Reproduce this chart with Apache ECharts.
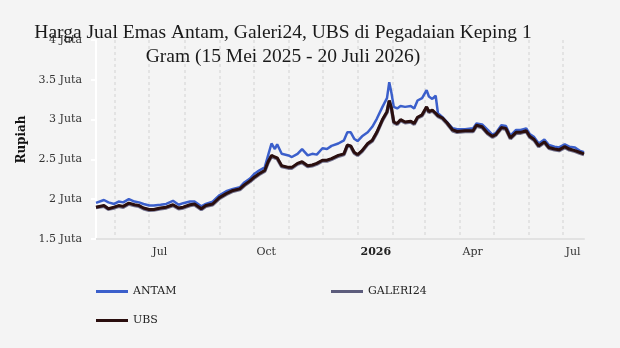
<!DOCTYPE html>
<html>
<head>
<meta charset="utf-8">
<script src="https://cdn.jsdelivr.net/npm/echarts@6.0.0/dist/echarts.min.js"></script>
<style>
  html, body { margin: 0; padding: 0; background: #f4f4f4; }
  #chart { width: 620px; height: 348px; }
</style>
</head>
<body>
<div id="chart"></div>
<script>
// Harga jual emas 1 gram (Rupiah)
const dates = [
  "2025-05-15", "2025-05-22", "2025-05-26", "2025-05-31", "2025-06-04", "2025-06-08", "2025-06-13",
  "2025-06-18", "2025-06-22", "2025-06-26", "2025-07-01", "2025-07-05", "2025-07-11", "2025-07-16",
  "2025-07-22", "2025-07-27", "2025-07-31", "2025-08-06", "2025-08-10", "2025-08-16", "2025-08-20",
  "2025-08-26", "2025-09-01", "2025-09-07", "2025-09-13", "2025-09-19", "2025-09-23", "2025-09-28",
  "2025-10-02", "2025-10-06", "2025-10-11", "2025-10-14", "2025-10-17", "2025-10-20", "2025-10-22",
  "2025-10-26", "2025-11-01", "2025-11-04", "2025-11-09", "2025-11-13", "2025-11-18", "2025-11-22",
  "2025-11-26", "2025-12-01", "2025-12-05", "2025-12-09", "2025-12-15", "2025-12-20", "2025-12-23",
  "2025-12-26", "2025-12-29", "2026-01-01", "2026-01-05", "2026-01-10", "2026-01-14", "2026-01-18",
  "2026-01-23", "2026-01-27", "2026-01-29", "2026-01-31", "2026-02-02", "2026-02-05", "2026-02-08",
  "2026-02-12", "2026-02-17", "2026-02-20", "2026-02-23", "2026-02-27", "2026-03-03", "2026-03-05",
  "2026-03-08", "2026-03-11", "2026-03-13", "2026-03-17", "2026-03-21", "2026-03-26", "2026-03-30",
  "2026-04-06", "2026-04-13", "2026-04-16", "2026-04-21", "2026-04-26", "2026-04-30", "2026-05-03",
  "2026-05-08", "2026-05-12", "2026-05-16", "2026-05-21", "2026-05-25", "2026-05-30", "2026-06-02",
  "2026-06-06", "2026-06-10", "2026-06-15", "2026-06-19", "2026-06-24", "2026-06-28", "2026-07-03",
  "2026-07-07", "2026-07-12", "2026-07-16", "2026-07-20"
];

const antam = [
  1954000, 1990000, 1960000, 1940000, 1970000, 1960000, 2000000,
  1970000, 1960000, 1940000, 1920000, 1920000, 1930000, 1940000,
  1980000, 1930000, 1950000, 1970000, 1970000, 1910000, 1940000,
  1970000, 2050000, 2100000, 2130000, 2150000, 2210000, 2260000,
  2320000, 2360000, 2400000, 2550000, 2700000, 2630000, 2690000,
  2570000, 2550000, 2530000, 2570000, 2630000, 2550000, 2570000,
  2560000, 2640000, 2630000, 2670000, 2700000, 2740000, 2840000,
  2840000, 2760000, 2730000, 2790000, 2840000, 2910000, 3010000,
  3160000, 3270000, 3470000, 3330000, 3160000, 3140000, 3170000,
  3160000, 3170000, 3140000, 3240000, 3270000, 3370000, 3290000,
  3260000, 3300000, 3080000, 3030000, 2970000, 2890000, 2880000,
  2880000, 2890000, 2950000, 2940000, 2870000, 2810000, 2830000,
  2930000, 2920000, 2800000, 2870000, 2870000, 2890000, 2820000,
  2780000, 2700000, 2750000, 2680000, 2660000, 2650000, 2690000,
  2660000, 2650000, 2610000, 2590000
];

const galeri24 = [
  1895000, 1910000, 1875000, 1890000, 1910000, 1900000, 1940000,
  1920000, 1910000, 1880000, 1860000, 1865000, 1880000, 1890000,
  1920000, 1880000, 1890000, 1920000, 1930000, 1870000, 1910000,
  1930000, 2010000, 2060000, 2100000, 2120000, 2170000, 2220000,
  2270000, 2310000, 2350000, 2460000, 2540000, 2520000, 2510000,
  2410000, 2390000, 2390000, 2440000, 2460000, 2410000, 2420000,
  2440000, 2480000, 2480000, 2500000, 2540000, 2560000, 2670000,
  2660000, 2580000, 2550000, 2600000, 2690000, 2730000, 2830000,
  2990000, 3090000, 3230000, 3130000, 2960000, 2940000, 2990000,
  2960000, 2970000, 2940000, 3020000, 3050000, 3150000, 3090000,
  3110000, 3070000, 3040000, 3010000, 2950000, 2860000, 2840000,
  2850000, 2850000, 2920000, 2900000, 2820000, 2780000, 2800000,
  2890000, 2880000, 2760000, 2830000, 2830000, 2850000, 2780000,
  2740000, 2660000, 2710000, 2640000, 2620000, 2610000, 2650000,
  2620000, 2600000, 2580000, 2560000
];

const ubs = [
  1900000, 1920000, 1880000, 1900000, 1920000, 1910000, 1950000,
  1930000, 1920000, 1890000, 1870000, 1870000, 1890000, 1900000,
  1930000, 1890000, 1900000, 1930000, 1940000, 1880000, 1920000,
  1940000, 2020000, 2070000, 2110000, 2130000, 2180000, 2230000,
  2280000, 2320000, 2360000, 2470000, 2550000, 2530000, 2520000,
  2420000, 2400000, 2400000, 2450000, 2470000, 2420000, 2430000,
  2450000, 2490000, 2490000, 2510000, 2550000, 2570000, 2680000,
  2670000, 2590000, 2560000, 2610000, 2700000, 2740000, 2840000,
  3000000, 3100000, 3240000, 3140000, 2970000, 2950000, 3000000,
  2970000, 2980000, 2950000, 3030000, 3060000, 3160000, 3100000,
  3120000, 3080000, 3050000, 3020000, 2960000, 2870000, 2850000,
  2860000, 2860000, 2930000, 2910000, 2830000, 2790000, 2810000,
  2900000, 2890000, 2770000, 2840000, 2840000, 2860000, 2790000,
  2750000, 2670000, 2720000, 2650000, 2630000, 2620000, 2660000,
  2630000, 2610000, 2590000, 2570000
];

const seriesNames = ["ANTAM", "GALERI24", "UBS"];
const seriesColors = ["#3b5fcb", "#5c5c7c", "#2a0e0e"];
const quarterLabels = { 3: "Apr", 6: "Jul", 9: "Oct" };

const serif = "DejaVu Serif";

function pairs(values) {
  return dates.map((d, i) => [d, values[i]]);
}

function legendAt(name, left, top) {
  return {
    data: [name],
    left: left,
    top: top,
    padding: 0,
    icon: "rect",
    itemWidth: 32,
    itemHeight: 3,
    itemGap: 5,
    textStyle: { fontFamily: serif, fontSize: 11, color: "#222" },
  };
}

const chart = echarts.init(document.getElementById("chart"));

const option = {
  backgroundColor: "#f4f4f4",
  animation: false,
  title: {
    text: "Harga Jual Emas Antam, Galeri24, UBS di Pegadaian Keping 1\nGram (15 Mei 2025 - 20 Juli 2026)",
    left: 278,
    top: 16,
    textAlign: "center",
    textStyle: {
      fontFamily: "Liberation Serif",
      fontSize: 19.5,
      fontWeight: "normal",
      color: "#1a1a1a",
      lineHeight: 24,
    },
  },
  legend: [
    legendAt("ANTAM", 96, 286),
    legendAt("GALERI24", 331, 286),
    legendAt("UBS", 96, 315),
  ],
  grid: {
    left: 96,
    right: 36,
    top: 40,
    bottom: 109,
  },
  xAxis: {
    type: "time",
    min: "2025-05-15",
    max: "2026-07-20",
    minInterval: 28 * 86400000,
    maxInterval: 31 * 86400000,
    axisLine: { show: true, lineStyle: { color: "#e2e2e2", width: 2 } },
    axisTick: { show: false },
    splitLine: {
      show: true,
      showMinLine: false,
      showMaxLine: false,
      lineStyle: { color: "#dddddd", width: 1.5, type: [3, 3] },
    },
    axisLabel: {
      showMinLabel: false,
      showMaxLabel: false,
      align: "left",
      margin: 8,
      padding: [0, 0, 0, 3],
      fontFamily: serif,
      fontSize: 11,
      color: "#333",
      formatter: function (value) {
        const d = new Date(value);
        if (d.getDate() !== 1) return "";
        const m = d.getMonth();
        if (m === 0) return "{yr|" + d.getFullYear() + "}";
        return quarterLabels[m] || "";
      },
      rich: {
        yr: { fontFamily: serif, fontSize: 11, fontWeight: "bold", color: "#222" },
      },
    },
  },
  yAxis: {
    type: "value",
    min: 1500000,
    max: 4000000,
    interval: 500000,
    name: "Rupiah",
    nameLocation: "middle",
    nameGap: 66,
    nameTextStyle: { fontFamily: serif, fontSize: 12, fontWeight: "bold", color: "#111" },
    axisLine: { show: true, lineStyle: { color: "#ffffff", width: 2 } },
    axisTick: { show: true, length: 5, lineStyle: { color: "#ffffff", width: 2 } },
    splitLine: { show: false },
    axisLabel: {
      margin: 14,
      fontFamily: serif,
      fontSize: 11,
      color: "#333",
      formatter: (v) => v / 1000000 + " Juta",
    },
  },
  series: [
    {
      name: seriesNames[0],
      type: "line",
      data: pairs(antam),
      showSymbol: false,
      color: seriesColors[0],
      lineStyle: { width: 2.5 },
    },
    {
      name: seriesNames[1],
      type: "line",
      data: pairs(galeri24),
      showSymbol: false,
      color: seriesColors[1],
      lineStyle: { width: 3.5, opacity: 0.85 },
    },
    {
      name: seriesNames[2],
      type: "line",
      data: pairs(ubs),
      showSymbol: false,
      color: seriesColors[2],
      lineStyle: { width: 3 },
    },
  ],
};

chart.setOption(option);

window.addEventListener("resize", () => {
  chart.resize();
});
</script>
</body>
</html>
